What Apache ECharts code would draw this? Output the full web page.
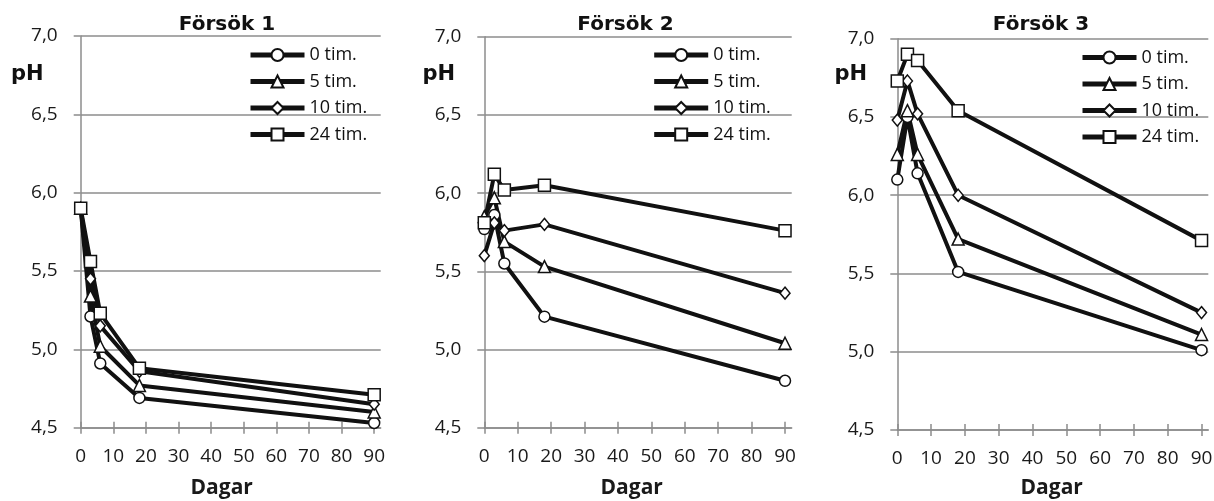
<!DOCTYPE html>
<html>
<head>
<meta charset="utf-8">
<script src="https://cdn.jsdelivr.net/npm/echarts@6/dist/echarts.min.js"></script>
<style>
  html, body { margin: 0; padding: 0; background: #fff; }
  #chart { width: 1214px; height: 501px; }
</style>
</head>
<body>
<div id="chart"></div>
<script>
// Sampling days (x values shared by every series)
const days = [0, 3, 6, 18, 90];
const seriesNames = ['0 tim.', '5 tim.', '10 tim.', '24 tim.'];
const panelTitles = ['Försök 1', 'Försök 2', 'Försök 3'];
const xTickValues = [0, 10, 20, 30, 40, 50, 60, 70, 80, 90];

// pH per trial, one array per treatment time
const trial1_0h  = [5.90, 5.21, 4.91, 4.69, 4.53];
const trial1_5h  = [5.90, 5.34, 5.02, 4.77, 4.60];
const trial1_10h = [5.90, 5.45, 5.15, 4.86, 4.65];
const trial1_24h = [5.90, 5.56, 5.23, 4.88, 4.71];

const trial2_0h  = [5.77, 5.86, 5.55, 5.21, 4.80];
const trial2_5h  = [5.85, 5.97, 5.69, 5.53, 5.04];
const trial2_10h = [5.60, 5.81, 5.76, 5.80, 5.36];
const trial2_24h = [5.81, 6.12, 6.02, 6.05, 5.76];

const trial3_0h  = [6.10, 6.50, 6.14, 5.51, 5.01];
const trial3_5h  = [6.26, 6.54, 6.26, 5.72, 5.11];
const trial3_10h = [6.48, 6.73, 6.52, 6.00, 5.25];
const trial3_24h = [6.73, 6.90, 6.86, 6.54, 5.71];

const trials = [
  [trial1_0h, trial1_5h, trial1_10h, trial1_24h],
  [trial2_0h, trial2_5h, trial2_10h, trial2_24h],
  [trial3_0h, trial3_5h, trial3_10h, trial3_24h]
];

const symbols = ['circle', 'triangle', 'diamond', 'rect'];
const symbolSizes = [11, 12, [10, 12], 12];

// Layout of the three panels
const grids = [
  { left: 80.7,  top: 36,   width: 300,   height: 391.7 },
  { left: 484.3, top: 36.7, width: 307.4, height: 391 },
  { left: 897.3, top: 38.7, width: 311,   height: 391.3 }
];
const titleCenters = [227, 625.5, 1041];
const legendLefts = [243, 646.7, 1075];
const legendTops = [41, 41, 43.5];
const pHLefts = [11, 422.5, 834.5];
const dagarCenters = [221.7, 631.7, 1051.7];

const gridGray = '#8c8c8c';
const ink = '#111';
const labelFont = 'Open Sans';

const option = {
  animation: false,
  backgroundColor: '#fff',
  title: panelTitles.map((t, i) => ({
    text: t,
    left: titleCenters[i],
    textAlign: 'center',
    top: 15,
    padding: 0,
    textStyle: { fontFamily: 'DejaVu Sans', fontWeight: 'bold', fontSize: 20, color: ink }
  })),
  grid: grids.map(g => Object.assign({ containLabel: false, outerBoundsMode: 'none' }, g)),
  legend: [0, 1, 2].map(i => ({
    data: seriesNames,
    orient: 'vertical',
    left: legendLefts[i],
    top: legendTops[i],
    itemWidth: 54,
    itemHeight: 15,
    itemGap: 8.5,
    selectedMode: false,
    lineStyle: { width: 5, color: ink },
    textStyle: { fontFamily: labelFont, fontSize: 18, color: ink }
  })),
  xAxis: [],
  yAxis: [],
  series: [],
  graphic: []
};

for (let i = 0; i < 3; i++) {
  // main value axis with labels and outward tick marks
  option.xAxis.push({
    type: 'value', gridIndex: i, min: 0, max: 92, interval: 10,
    axisLine: { show: true, lineStyle: { color: gridGray, width: 1.5 } },
    axisTick: { show: true, length: 6, customValues: xTickValues, lineStyle: { color: gridGray, width: 1.5 } },
    axisLabel: { customValues: xTickValues, margin: 19, fontFamily: labelFont, fontSize: 19, color: '#1a1a1a' },
    splitLine: { show: false }
  });
  // companion axis carrying the inward half of the crossing tick marks
  option.xAxis.push({
    type: 'value', gridIndex: i, min: 0, max: 92, interval: 10, position: 'bottom',
    axisLine: { show: false },
    axisTick: { show: true, inside: true, length: 6, customValues: xTickValues, lineStyle: { color: gridGray, width: 1.5 } },
    axisLabel: { show: false },
    splitLine: { show: false }
  });
  option.yAxis.push({
    type: 'value', gridIndex: i, min: 4.5, max: 7.0, interval: 0.5,
    axisLine: { show: true, lineStyle: { color: gridGray, width: 1.5 } },
    axisTick: { show: true, length: 7, lineStyle: { color: gridGray, width: 1.5 } },
    axisLabel: {
      margin: 23, fontFamily: labelFont, fontSize: 19, color: '#1a1a1a',
      formatter: v => v.toFixed(1).replace('.', ',')
    },
    splitLine: { show: true, lineStyle: { color: gridGray, width: 1.5 } }
  });

  trials[i].forEach((vals, k) => {
    option.series.push({
      type: 'line',
      name: seriesNames[k],
      xAxisIndex: i * 2,
      yAxisIndex: i,
      data: days.map((d, j) => [d, vals[j]]),
      symbol: symbols[k],
      symbolSize: symbolSizes[k],
      showAllSymbol: true,
      lineStyle: { color: ink, width: 4 },
      itemStyle: { color: '#fff', borderColor: ink, borderWidth: 1.5 },
      emphasis: { disabled: true }
    });
  });

  option.graphic.push({
    type: 'text', left: pHLefts[i], top: 64,
    style: { text: 'pH', font: 'bold 21px "DejaVu Sans"', fill: ink }
  });
  option.graphic.push({
    type: 'text', x: dagarCenters[i], y: 488,
    style: { text: 'Dagar', font: 'bold 21px "Open Sans"', fill: '#1a1a1a', align: 'center', verticalAlign: 'middle' }
  });
}

const chart = echarts.init(document.getElementById('chart'), null, { renderer: 'canvas' });
chart.setOption(option);
</script>
</body>
</html>
